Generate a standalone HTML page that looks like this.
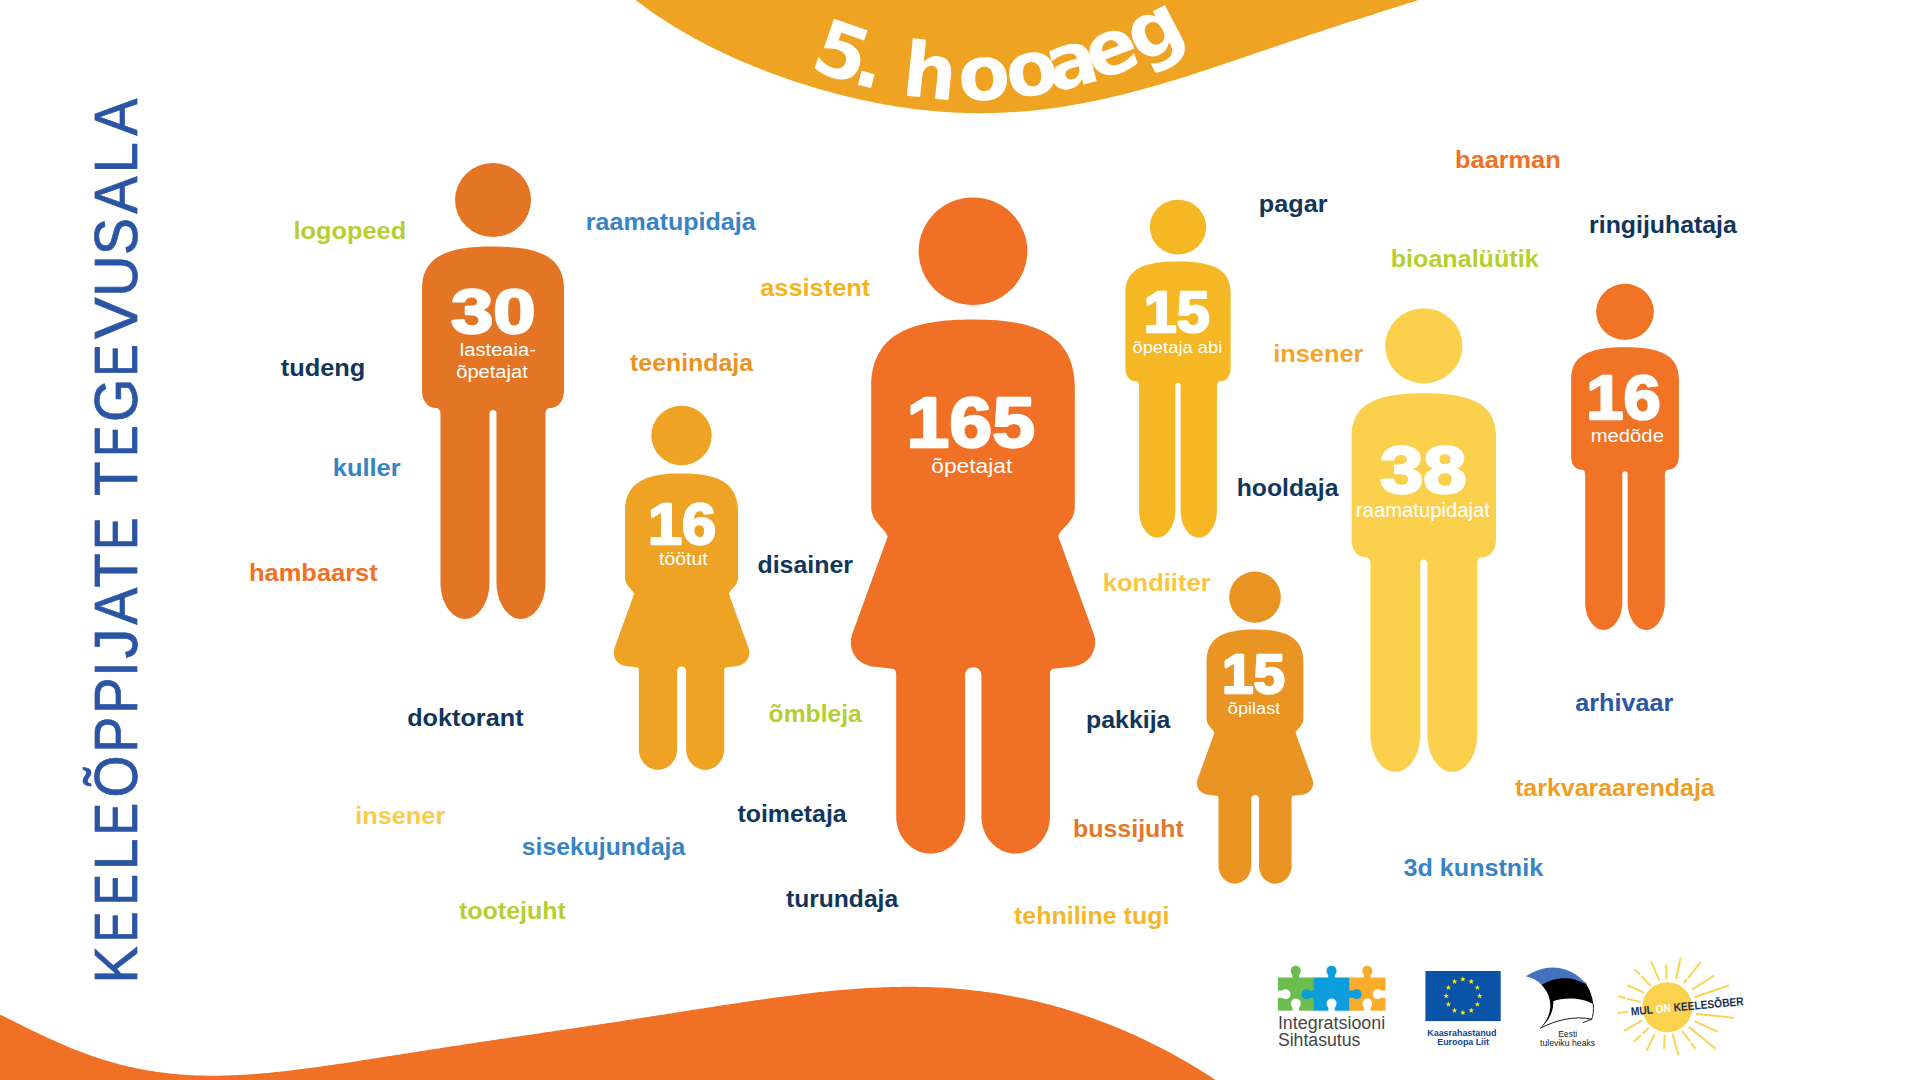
<!DOCTYPE html>
<html><head><meta charset="utf-8"><title>Keeleõppijate tegevusala</title>
<style>
html,body{margin:0;padding:0;background:#fff;width:1920px;height:1080px;overflow:hidden}
svg{display:block}
text{font-family:'Liberation Sans', Arial, sans-serif}
.w{font-size:24.5px;font-weight:700}
</style></head><body>
<svg width="1920" height="1080" viewBox="0 0 1920 1080">
<path d="M 626,-8 L 630,-4.45 634,-1.28 638,1.81 642,4.82 646,7.76 650,10.63 654,13.42 658,16.15 662,18.82 666,21.42 670,23.96 674,26.44 678,28.87 682,31.24 686,33.56 690,35.83 694,38.06 698,40.23 702,42.36 706,44.44 710,46.48 714,48.48 718,50.44 722,52.36 726,54.24 730,56.08 734,57.89 738,59.66 742,61.4 746,63.11 750,64.78 754,66.42 758,68.03 762,69.6 766,71.15 770,72.67 774,74.15 778,75.61 782,77.04 786,78.44 790,79.82 794,81.16 798,82.48 802,83.77 806,85.03 810,86.27 814,87.48 818,88.66 822,89.82 826,90.95 830,92.05 834,93.13 838,94.18 842,95.2 846,96.19 850,97.16 854,98.11 858,99.02 862,99.91 866,100.77 870,101.6 874,102.4 878,103.18 882,103.93 886,104.65 890,105.35 894,106.01 898,106.65 902,107.25 906,107.83 910,108.38 914,108.9 918,109.39 922,109.85 926,110.29 930,110.69 934,111.06 938,111.4 942,111.71 946,111.99 950,112.25 954,112.47 958,112.65 962,112.81 966,112.94 970,113.04 974,113.1 978,113.14 982,113.14 986,113.12 990,113.06 994,112.97 998,112.85 1002,112.7 1006,112.51 1010,112.3 1014,112.06 1018,111.78 1022,111.48 1026,111.14 1030,110.78 1034,110.38 1038,109.96 1042,109.5 1046,109.02 1050,108.51 1054,107.96 1058,107.39 1062,106.79 1066,106.17 1070,105.51 1074,104.83 1078,104.12 1082,103.38 1086,102.62 1090,101.83 1094,101.02 1098,100.18 1102,99.31 1106,98.43 1110,97.51 1114,96.58 1118,95.62 1122,94.64 1126,93.64 1130,92.62 1134,91.58 1138,90.52 1142,89.43 1146,88.33 1150,87.21 1154,86.08 1158,84.92 1162,83.76 1166,82.57 1170,81.37 1174,80.15 1178,78.93 1182,77.68 1186,76.43 1190,75.17 1194,73.89 1198,72.6 1202,71.3 1206,70 1210,68.68 1214,67.36 1218,66.03 1222,64.7 1226,63.35 1230,62.01 1234,60.66 1238,59.3 1242,57.94 1246,56.58 1250,55.22 1254,53.85 1258,52.49 1262,51.12 1266,49.75 1270,48.39 1274,47.02 1278,45.66 1282,44.3 1286,42.94 1290,41.59 1294,40.23 1298,38.88 1302,37.54 1306,36.2 1310,34.86 1314,33.53 1318,32.2 1322,30.88 1326,29.56 1330,28.25 1334,26.95 1338,25.64 1342,24.35 1346,23.05 1350,21.77 1354,20.49 1358,19.21 1362,17.93 1366,16.66 1370,15.39 1374,14.13 1378,12.86 1382,11.6 1386,10.34 1390,9.08 1394,7.82 1398,6.55 1402,5.28 1406,4.01 1410,2.74 1414,1.45 1418,0.16 1422,-1.14 L 1430,-8 Z" fill="#efa323"/>
<path d="M -4,1012.69 0,1014.63 4,1016.58 8,1018.55 12,1020.53 16,1022.51 20,1024.49 24,1026.46 28,1028.43 32,1030.38 36,1032.31 40,1034.22 44,1036.11 48,1037.96 52,1039.79 56,1041.59 60,1043.35 64,1045.07 68,1046.75 72,1048.39 76,1049.99 80,1051.55 84,1053.05 88,1054.52 92,1055.93 96,1057.3 100,1058.61 104,1059.88 108,1061.09 112,1062.26 116,1063.37 120,1064.44 124,1065.45 128,1066.41 132,1067.32 136,1068.18 140,1068.99 144,1069.75 148,1070.46 152,1071.12 156,1071.74 160,1072.3 164,1072.82 168,1073.3 172,1073.72 176,1074.11 180,1074.45 184,1074.74 188,1075 192,1075.21 196,1075.39 200,1075.52 204,1075.62 208,1075.68 212,1075.71 216,1075.7 220,1075.66 224,1075.58 228,1075.47 232,1075.33 236,1075.17 240,1074.97 244,1074.75 248,1074.5 252,1074.23 256,1073.93 260,1073.61 264,1073.26 268,1072.9 272,1072.51 276,1072.11 280,1071.69 284,1071.25 288,1070.79 292,1070.32 296,1069.84 300,1069.34 304,1068.83 308,1068.3 312,1067.77 316,1067.22 320,1066.67 324,1066.1 328,1065.53 332,1064.95 336,1064.36 340,1063.77 344,1063.17 348,1062.57 352,1061.96 356,1061.34 360,1060.73 364,1060.11 368,1059.49 372,1058.86 376,1058.23 380,1057.61 384,1056.98 388,1056.35 392,1055.72 396,1055.09 400,1054.46 404,1053.83 408,1053.2 412,1052.57 416,1051.94 420,1051.32 424,1050.69 428,1050.07 432,1049.44 436,1048.82 440,1048.2 444,1047.59 448,1046.97 452,1046.36 456,1045.74 460,1045.13 464,1044.53 468,1043.92 472,1043.31 476,1042.71 480,1042.11 484,1041.51 488,1040.91 492,1040.31 496,1039.72 500,1039.12 504,1038.53 508,1037.93 512,1037.34 516,1036.75 520,1036.16 524,1035.57 528,1034.98 532,1034.39 536,1033.8 540,1033.21 544,1032.62 548,1032.04 552,1031.45 556,1030.86 560,1030.26 564,1029.67 568,1029.08 572,1028.49 576,1027.89 580,1027.3 584,1026.7 588,1026.1 592,1025.5 596,1024.9 600,1024.3 604,1023.7 608,1023.09 612,1022.49 616,1021.88 620,1021.27 624,1020.66 628,1020.05 632,1019.43 636,1018.81 640,1018.2 644,1017.58 648,1016.96 652,1016.34 656,1015.71 660,1015.09 664,1014.47 668,1013.84 672,1013.22 676,1012.59 680,1011.96 684,1011.34 688,1010.71 692,1010.08 696,1009.46 700,1008.83 704,1008.21 708,1007.58 712,1006.96 716,1006.34 720,1005.72 724,1005.11 728,1004.5 732,1003.89 736,1003.28 740,1002.68 744,1002.08 748,1001.49 752,1000.9 756,1000.32 760,999.74 764,999.17 768,998.6 772,998.05 776,997.5 780,996.95 784,996.42 788,995.9 792,995.38 796,994.88 800,994.38 804,993.9 808,993.42 812,992.96 816,992.51 820,992.08 824,991.66 828,991.25 832,990.86 836,990.48 840,990.12 844,989.77 848,989.44 852,989.13 856,988.83 860,988.55 864,988.29 868,988.06 872,987.84 876,987.64 880,987.46 884,987.3 888,987.17 892,987.05 896,986.96 900,986.9 904,986.85 908,986.84 912,986.84 916,986.87 920,986.93 924,987.01 928,987.12 932,987.26 936,987.42 940,987.61 944,987.83 948,988.08 952,988.35 956,988.66 960,988.99 964,989.35 968,989.75 972,990.17 976,990.63 980,991.11 984,991.63 988,992.18 992,992.76 996,993.37 1000,994.01 1004,994.69 1008,995.4 1012,996.14 1016,996.91 1020,997.72 1024,998.56 1028,999.43 1032,1000.33 1036,1001.27 1040,1002.25 1044,1003.25 1048,1004.29 1052,1005.36 1056,1006.47 1060,1007.61 1064,1008.79 1068,1010 1072,1011.24 1076,1012.52 1080,1013.83 1084,1015.17 1088,1016.55 1092,1017.97 1096,1019.42 1100,1020.9 1104,1022.42 1108,1023.97 1112,1025.56 1116,1027.18 1120,1028.84 1124,1030.54 1128,1032.27 1132,1034.03 1136,1035.83 1140,1037.67 1144,1039.55 1148,1041.46 1152,1043.41 1156,1045.4 1160,1047.43 1164,1049.5 1168,1051.61 1172,1053.76 1176,1055.95 1180,1058.18 1184,1060.46 1188,1062.78 1192,1065.14 1196,1067.55 1200,1070.01 1204,1072.52 1208,1075.08 1212,1077.69 1216,1080.35 1220,1083.07 1224,1085.85 L 1240,1090 L -5,1090 Z" fill="#f07125"/>
<ellipse cx="493" cy="200" rx="38" ry="37" fill="#e37524"/><path d="M 493,246.5 C 535,246.5 564,254.5 564,288.5 L 564,390.5 C 564,402.5 557,408 550,408 C 547,408 545.5,410.5 545.5,414.5 L 545.5,582.5 C 545.5,602.5 534.5,619 521,619 C 507.5,619 496.5,602.5 496.5,582.5 L 496.5,413.5 C 496.5,411.5 495,410 493,410 C 491,410 489.5,411.5 489.5,413.5 L 489.5,582.5 C 489.5,602.5 478.5,619 465,619 C 451.5,619 440.5,602.5 440.5,582.5 L 440.5,414.5 C 440.5,410.5 439,408 436,408 C 429,408 422,402.5 422,390.5 L 422,288.5 C 422,254.5 451,246.5 493,246.5 Z" fill="#e37524"/>
<ellipse cx="681.5" cy="435.53" rx="30.19" ry="29.83" fill="#efa325"/><path d="M 681.5,473.41 C 714.8,473.41 738,480.62 738,511.15 L 738,577.47 C 738,586.08 730.34,588.85 728.84,593.85 L 748.82,648.85 C 750.65,655.45 747.54,664.88 735.89,666.16 L 726.18,667.22 C 724.51,667.38 724.24,668.77 724.24,670.99 L 724.24,749.25 C 724.24,760.57 715.69,769.84 705.2,769.84 C 694.71,769.84 686.16,760.57 686.16,749.25 L 686.16,670.99 C 686.16,668.22 684.27,666.44 681.61,666.44 C 678.95,666.44 677.06,668.22 677.06,670.99 L 677.06,749.25 C 677.06,760.57 668.51,769.84 657.97,769.84 C 647.42,769.84 638.88,760.57 638.88,749.25 L 638.88,670.99 C 638.88,668.77 638.49,667.38 636.82,667.22 L 627.11,666.16 C 615.46,664.88 612.35,655.45 614.18,648.85 L 634.16,593.85 C 632.66,588.85 625,586.08 625,577.47 L 625,511.15 C 625,480.62 648.2,473.41 681.5,473.41 Z" fill="#efa325"/>
<ellipse cx="973" cy="251.25" rx="54.4" ry="53.75" fill="#f07125"/><path d="M 973,319.5 C 1033,319.5 1074.8,332.5 1074.8,387.5 L 1074.8,507 C 1074.8,522.5 1061,527.5 1058.3,536.5 L 1094.3,635.6 C 1097.6,647.5 1092,664.5 1071,666.8 L 1053.5,668.7 C 1050.5,669 1050,671.5 1050,675.5 L 1050,816.5 C 1050,836.9 1034.6,853.6 1015.7,853.6 C 996.8,853.6 981.4,836.9 981.4,816.5 L 981.4,675.5 C 981.4,670.5 978,667.3 973.2,667.3 C 968.4,667.3 965,670.5 965,675.5 L 965,816.5 C 965,836.9 949.6,853.6 930.6,853.6 C 911.6,853.6 896.2,836.9 896.2,816.5 L 896.2,675.5 C 896.2,671.5 895.5,669 892.5,668.7 L 875,666.8 C 854,664.5 848.4,647.5 851.7,635.6 L 887.7,536.5 C 885,527.5 871.2,522.5 871.2,507 L 871.2,387.5 C 871.2,332.5 913,319.5 973,319.5 Z" fill="#f07125"/>
<ellipse cx="1178" cy="227.09" rx="28.16" ry="27.42" fill="#f5b724"/><path d="M 1178,261.54 C 1209.12,261.54 1230.61,267.47 1230.61,292.67 L 1230.61,368.25 C 1230.61,377.14 1225.42,381.22 1220.24,381.22 C 1218.01,381.22 1216.9,383.07 1216.9,386.03 L 1216.9,510.52 C 1216.9,525.34 1208.75,537.57 1198.75,537.57 C 1188.74,537.57 1180.59,525.34 1180.59,510.52 L 1180.59,385.29 C 1180.59,383.81 1179.48,382.7 1178,382.7 C 1176.52,382.7 1175.41,383.81 1175.41,385.29 L 1175.41,510.52 C 1175.41,525.34 1167.26,537.57 1157.25,537.57 C 1147.25,537.57 1139.1,525.34 1139.1,510.52 L 1139.1,386.03 C 1139.1,383.07 1137.99,381.22 1135.76,381.22 C 1130.58,381.22 1125.39,377.14 1125.39,368.25 L 1125.39,292.67 C 1125.39,267.47 1146.88,261.54 1178,261.54 Z" fill="#f5b724"/>
<ellipse cx="1255" cy="597.16" rx="25.87" ry="25.56" fill="#ea9424"/><path d="M 1255,629.62 C 1283.54,629.62 1303.42,635.81 1303.42,661.96 L 1303.42,718.8 C 1303.42,726.17 1296.85,728.55 1295.57,732.83 L 1312.69,779.96 C 1314.26,785.62 1311.6,793.71 1301.61,794.8 L 1293.29,795.7 C 1291.86,795.85 1291.62,797.03 1291.62,798.94 L 1291.62,866 C 1291.62,875.7 1284.3,883.64 1275.31,883.64 C 1266.32,883.64 1259,875.7 1259,866 L 1259,798.94 C 1259,796.56 1257.38,795.04 1255.1,795.04 C 1252.81,795.04 1251.2,796.56 1251.2,798.94 L 1251.2,866 C 1251.2,875.7 1243.87,883.64 1234.83,883.64 C 1225.8,883.64 1218.47,875.7 1218.47,866 L 1218.47,798.94 C 1218.47,797.03 1218.14,795.85 1216.71,795.7 L 1208.39,794.8 C 1198.4,793.71 1195.74,785.62 1197.31,779.96 L 1214.43,732.83 C 1213.15,728.55 1206.58,726.17 1206.58,718.8 L 1206.58,661.96 C 1206.58,635.81 1226.46,629.62 1255,629.62 Z" fill="#ea9424"/>
<ellipse cx="1423.8" cy="345.84" rx="38.65" ry="37.63" fill="#fbd04d"/><path d="M 1423.8,393.13 C 1466.51,393.13 1496.01,401.26 1496.01,435.84 L 1496.01,539.58 C 1496.01,551.78 1488.89,557.37 1481.77,557.37 C 1478.72,557.37 1477.19,559.92 1477.19,563.98 L 1477.19,734.84 C 1477.19,755.18 1466.01,771.96 1452.28,771.96 C 1438.55,771.96 1427.36,755.18 1427.36,734.84 L 1427.36,562.97 C 1427.36,560.93 1425.83,559.41 1423.8,559.41 C 1421.77,559.41 1420.24,560.93 1420.24,562.97 L 1420.24,734.84 C 1420.24,755.18 1409.05,771.96 1395.32,771.96 C 1381.59,771.96 1370.41,755.18 1370.41,734.84 L 1370.41,563.98 C 1370.41,559.92 1368.88,557.37 1365.83,557.37 C 1358.71,557.37 1351.59,551.78 1351.59,539.58 L 1351.59,435.84 C 1351.59,401.26 1381.09,393.13 1423.8,393.13 Z" fill="#fbd04d"/>
<ellipse cx="1625" cy="311.86" rx="28.84" ry="28.08" fill="#f07326"/><path d="M 1625,347.16 C 1656.88,347.16 1678.89,353.23 1678.89,379.03 L 1678.89,456.45 C 1678.89,465.56 1673.58,469.73 1668.26,469.73 C 1665.99,469.73 1664.85,471.63 1664.85,474.67 L 1664.85,602.18 C 1664.85,617.36 1656.5,629.88 1646.25,629.88 C 1636.01,629.88 1627.66,617.36 1627.66,602.18 L 1627.66,473.91 C 1627.66,472.39 1626.52,471.25 1625,471.25 C 1623.48,471.25 1622.34,472.39 1622.34,473.91 L 1622.34,602.18 C 1622.34,617.36 1613.99,629.88 1603.75,629.88 C 1593.5,629.88 1585.15,617.36 1585.15,602.18 L 1585.15,474.67 C 1585.15,471.63 1584.01,469.73 1581.74,469.73 C 1576.42,469.73 1571.11,465.56 1571.11,456.45 L 1571.11,379.03 C 1571.11,353.23 1593.12,347.16 1625,347.16 Z" fill="#f07326"/>
<text x="293.53" y="238.9" textLength="112.59" lengthAdjust="spacingAndGlyphs" fill="#b6cf30" class="w">logopeed</text>
<text x="585.86" y="230.2" textLength="169.75" lengthAdjust="spacingAndGlyphs" fill="#3684c4" class="w">raamatupidaja</text>
<text x="760.16" y="296.2" textLength="110.06" lengthAdjust="spacingAndGlyphs" fill="#f5b320" class="w">assistent</text>
<text x="630.1" y="370.6" textLength="122.98" lengthAdjust="spacingAndGlyphs" fill="#ea9321" class="w">teenindaja</text>
<text x="280.7" y="375.6" textLength="84.72" lengthAdjust="spacingAndGlyphs" fill="#12355b" class="w">tudeng</text>
<text x="332.72" y="475.9" textLength="67.97" lengthAdjust="spacingAndGlyphs" fill="#3684c4" class="w">kuller</text>
<text x="249.02" y="580.7" textLength="128.7" lengthAdjust="spacingAndGlyphs" fill="#f07125" class="w">hambaarst</text>
<text x="757.48" y="573" textLength="95.48" lengthAdjust="spacingAndGlyphs" fill="#12355b" class="w">disainer</text>
<text x="768.59" y="722.4" textLength="93.2" lengthAdjust="spacingAndGlyphs" fill="#b6cf30" class="w">õmbleja</text>
<text x="407.17" y="726" textLength="116.4" lengthAdjust="spacingAndGlyphs" fill="#12355b" class="w">doktorant</text>
<text x="355.23" y="823.8" textLength="90.03" lengthAdjust="spacingAndGlyphs" fill="#f9cc47" class="w">insener</text>
<text x="521.89" y="854.9" textLength="163.35" lengthAdjust="spacingAndGlyphs" fill="#3684c4" class="w">sisekujundaja</text>
<text x="458.9" y="918.9" textLength="107.08" lengthAdjust="spacingAndGlyphs" fill="#b6cf30" class="w">tootejuht</text>
<text x="737.4" y="821.7" textLength="109.26" lengthAdjust="spacingAndGlyphs" fill="#12355b" class="w">toimetaja</text>
<text x="786" y="906.7" textLength="112.12" lengthAdjust="spacingAndGlyphs" fill="#12355b" class="w">turundaja</text>
<text x="1102.82" y="591" textLength="107.77" lengthAdjust="spacingAndGlyphs" fill="#f8c645" class="w">kondiiter</text>
<text x="1085.97" y="728.2" textLength="84.51" lengthAdjust="spacingAndGlyphs" fill="#12355b" class="w">pakkija</text>
<text x="1072.96" y="837" textLength="110.93" lengthAdjust="spacingAndGlyphs" fill="#e2782a" class="w">bussijuht</text>
<text x="1014" y="924.3" textLength="155.37" lengthAdjust="spacingAndGlyphs" fill="#f5b62b" class="w">tehniline tugi</text>
<text x="1455.13" y="168" textLength="105.55" lengthAdjust="spacingAndGlyphs" fill="#f07125" class="w">baarman</text>
<text x="1258.74" y="212" textLength="68.77" lengthAdjust="spacingAndGlyphs" fill="#12355b" class="w">pagar</text>
<text x="1390.75" y="267" textLength="147.85" lengthAdjust="spacingAndGlyphs" fill="#b6cf30" class="w">bioanalüütik</text>
<text x="1589.07" y="232.9" textLength="147.8" lengthAdjust="spacingAndGlyphs" fill="#12355b" class="w">ringijuhataja</text>
<text x="1273.23" y="361.7" textLength="90.23" lengthAdjust="spacingAndGlyphs" fill="#f5a52a" class="w">insener</text>
<text x="1236.68" y="495.8" textLength="101.75" lengthAdjust="spacingAndGlyphs" fill="#12355b" class="w">hooldaja</text>
<text x="1575.17" y="710.7" textLength="98.1" lengthAdjust="spacingAndGlyphs" fill="#2a56a5" class="w">arhivaar</text>
<text x="1515" y="796" textLength="199.72" lengthAdjust="spacingAndGlyphs" fill="#ee9e22" class="w">tarkvaraarendaja</text>
<text x="1403.57" y="875.8" textLength="139.57" lengthAdjust="spacingAndGlyphs" fill="#3684c4" class="w">3d kunstnik</text>
<text x="450.9" y="333" textLength="84.59" lengthAdjust="spacingAndGlyphs" fill="#fff" stroke="#fff" stroke-width="2.4" stroke-linejoin="round" font-size="63.31" font-weight="700">30</text>
<text x="647.96" y="543.5" textLength="68.18" lengthAdjust="spacingAndGlyphs" fill="#fff" stroke="#fff" stroke-width="2.4" stroke-linejoin="round" font-size="57.81" font-weight="700">16</text>
<text x="906.54" y="446.6" textLength="128.44" lengthAdjust="spacingAndGlyphs" fill="#fff" stroke="#fff" stroke-width="2.4" stroke-linejoin="round" font-size="70.61" font-weight="700">165</text>
<text x="1143.87" y="331.5" textLength="65.79" lengthAdjust="spacingAndGlyphs" fill="#fff" stroke="#fff" stroke-width="2.4" stroke-linejoin="round" font-size="56.61" font-weight="700">15</text>
<text x="1222.01" y="692.6" textLength="62.9" lengthAdjust="spacingAndGlyphs" fill="#fff" stroke="#fff" stroke-width="2.4" stroke-linejoin="round" font-size="54.91" font-weight="700">15</text>
<text x="1380.03" y="492.8" textLength="86.66" lengthAdjust="spacingAndGlyphs" fill="#fff" stroke="#fff" stroke-width="2.4" stroke-linejoin="round" font-size="65.81" font-weight="700">38</text>
<text x="1586.3" y="418.6" textLength="74.36" lengthAdjust="spacingAndGlyphs" fill="#fff" stroke="#fff" stroke-width="2.4" stroke-linejoin="round" font-size="63.61" font-weight="700">16</text>
<text x="459.83" y="355.8" textLength="76.04" lengthAdjust="spacingAndGlyphs" fill="#fff" font-size="18.8">lasteaia-</text>
<text x="456.23" y="377.5" textLength="71.6" lengthAdjust="spacingAndGlyphs" fill="#fff" font-size="18.8">õpetajat</text>
<text x="659" y="564.9" textLength="48.75" lengthAdjust="spacingAndGlyphs" fill="#fff" font-size="18">töötut</text>
<text x="931.23" y="473" textLength="81.14" lengthAdjust="spacingAndGlyphs" fill="#fff" font-size="19.5">õpetajat</text>
<text x="1132.42" y="352.8" textLength="89.97" lengthAdjust="spacingAndGlyphs" fill="#fff" font-size="17">õpetaja abi</text>
<text x="1227.86" y="714.1" textLength="52.44" lengthAdjust="spacingAndGlyphs" fill="#fff" font-size="17.4">õpilast</text>
<text x="1355.86" y="517" textLength="134.04" lengthAdjust="spacingAndGlyphs" fill="#fff" font-size="19.5">raamatupidajat</text>
<text x="1590.73" y="442.1" textLength="73.18" lengthAdjust="spacingAndGlyphs" fill="#fff" font-size="19">medõde</text>
<text transform="translate(137.3,978) rotate(-90)" y="-0.3" fill="#2b55a4" stroke="#2b55a4" stroke-width="0.7" style="font-size:62px;font-weight:400"><tspan x="-5.43" textLength="37.2" lengthAdjust="spacingAndGlyphs">K</tspan><tspan x="35.82" textLength="30.7" lengthAdjust="spacingAndGlyphs">E</tspan><tspan x="72.81" textLength="31.26" lengthAdjust="spacingAndGlyphs">E</tspan><tspan x="107.38" textLength="31.98" lengthAdjust="spacingAndGlyphs">L</tspan><tspan x="142.45" textLength="32.49" lengthAdjust="spacingAndGlyphs">E</tspan><tspan x="180.38" textLength="42.16" lengthAdjust="spacingAndGlyphs">Õ</tspan><tspan x="225.15" textLength="36.16" lengthAdjust="spacingAndGlyphs">P</tspan><tspan x="264.06" textLength="36.47" lengthAdjust="spacingAndGlyphs">P</tspan><tspan x="301.01" textLength="15.79" lengthAdjust="spacingAndGlyphs">I</tspan><tspan x="319.61" textLength="30.23" lengthAdjust="spacingAndGlyphs">J</tspan><tspan x="353.34" textLength="37.02" lengthAdjust="spacingAndGlyphs">A</tspan><tspan x="390.18" textLength="34.57" lengthAdjust="spacingAndGlyphs">T</tspan><tspan x="428.08" textLength="32.67" lengthAdjust="spacingAndGlyphs">E</tspan><tspan> </tspan><tspan x="482.08" textLength="34.57" lengthAdjust="spacingAndGlyphs">T</tspan><tspan x="521.22" textLength="31.13" lengthAdjust="spacingAndGlyphs">E</tspan><tspan x="555.95" textLength="43.37" lengthAdjust="spacingAndGlyphs">G</tspan><tspan x="601.25" textLength="32.49" lengthAdjust="spacingAndGlyphs">E</tspan><tspan x="638.98" textLength="41.65" lengthAdjust="spacingAndGlyphs">V</tspan><tspan x="680.89" textLength="41.71" lengthAdjust="spacingAndGlyphs">U</tspan><tspan x="722.93" textLength="36.96" lengthAdjust="spacingAndGlyphs">S</tspan><tspan x="764.24" textLength="37.32" lengthAdjust="spacingAndGlyphs">A</tspan><tspan x="804.67" textLength="31.03" lengthAdjust="spacingAndGlyphs">L</tspan><tspan x="842.24" textLength="37.22" lengthAdjust="spacingAndGlyphs">A</tspan></text>
<path id="arc" d="M 673.02,-23.02 A 420 420 0 0 0 1266.98,-23.02" fill="none"/>
<text fill="#fff" style="font-family:'DejaVu Sans','Liberation Sans',sans-serif;font-size:76px;font-weight:700;letter-spacing:-2.5px"><textPath href="#arc" startOffset="355" text-anchor="middle"><tspan dx="6">5</tspan><tspan dx="-6">.</tspan> <tspan dx="1">h</tspan><tspan dx="7">o</tspan><tspan dx="1">o</tspan><tspan dx="-6">a</tspan><tspan dx="-5">e</tspan>g</textPath></text>
<rect x="1277.9" y="977.5" width="36.07" height="33.2" fill="#6cbd4f"/>
<circle cx="1295.78" cy="970.9" r="5.1" fill="#6cbd4f"/><rect x="1292.48" y="972" width="6.6" height="6" fill="#6cbd4f"/>
<circle cx="1295.78" cy="1003.6" r="5.0" fill="#fff"/><rect x="1292.58" y="1005" width="6.4" height="6" fill="#fff"/>
<rect x="1313.67" y="977.5" width="36.07" height="33.2" fill="#0b9ddc"/>
<circle cx="1331.55" cy="970.9" r="5.1" fill="#0b9ddc"/><rect x="1328.25" y="972" width="6.6" height="6" fill="#0b9ddc"/>
<circle cx="1331.55" cy="1003.6" r="5.0" fill="#fff"/><rect x="1328.35" y="1005" width="6.4" height="6" fill="#fff"/>
<rect x="1349.43" y="977.5" width="36.07" height="33.2" fill="#f9ab2b"/>
<circle cx="1367.32" cy="970.9" r="5.1" fill="#f9ab2b"/><rect x="1364.02" y="972" width="6.6" height="6" fill="#f9ab2b"/>
<circle cx="1367.32" cy="1003.6" r="5.0" fill="#fff"/><rect x="1364.12" y="1005" width="6.4" height="6" fill="#fff"/>
<circle cx="1285.6" cy="994.2" r="4.9" fill="#fff"/><rect x="1277.5" y="990.6" width="6" height="7.2" fill="#fff"/>
<circle cx="1306.4" cy="994.2" r="4.9" fill="#0b9ddc"/><rect x="1308" y="990.6" width="6" height="7.2" fill="#0b9ddc"/>
<circle cx="1356.6" cy="994.2" r="4.9" fill="#0b9ddc"/><rect x="1349" y="990.6" width="6" height="7.2" fill="#0b9ddc"/>
<circle cx="1377.6" cy="994.2" r="4.9" fill="#fff"/><rect x="1379.5" y="990.6" width="6.2" height="7.2" fill="#fff"/>
<text x="1277.9" y="1029" fill="#454545" style="font-size:17.6px;font-weight:400" textLength="107.3" lengthAdjust="spacingAndGlyphs">Integratsiooni</text>
<text x="1277.9" y="1045.8" fill="#454545" style="font-size:17.6px;font-weight:400" textLength="82.5" lengthAdjust="spacingAndGlyphs">Sihtasutus</text>
<rect x="1425.4" y="971" width="75.3" height="50.1" fill="#0b53a6"/>
<polygon points="1462.9,976.4 1463.61,978.33 1465.66,978.4 1464.04,979.67 1464.6,981.65 1462.9,980.5 1461.2,981.65 1461.76,979.67 1460.14,978.4 1462.19,978.33" fill="#ffed00"/>
<polygon points="1471.25,978.64 1471.96,980.57 1474.01,980.64 1472.39,981.91 1472.95,983.88 1471.25,982.74 1469.55,983.88 1470.11,981.91 1468.49,980.64 1470.54,980.57" fill="#ffed00"/>
<polygon points="1477.36,984.75 1478.07,986.68 1480.12,986.75 1478.5,988.02 1479.07,990 1477.36,988.85 1475.66,990 1476.22,988.02 1474.6,986.75 1476.66,986.68" fill="#ffed00"/>
<polygon points="1479.6,993.1 1480.31,995.03 1482.36,995.1 1480.74,996.37 1481.3,998.35 1479.6,997.2 1477.9,998.35 1478.46,996.37 1476.84,995.1 1478.89,995.03" fill="#ffed00"/>
<polygon points="1477.36,1001.45 1478.07,1003.38 1480.12,1003.45 1478.5,1004.72 1479.07,1006.7 1477.36,1005.55 1475.66,1006.7 1476.22,1004.72 1474.6,1003.45 1476.66,1003.38" fill="#ffed00"/>
<polygon points="1471.25,1007.56 1471.96,1009.49 1474.01,1009.57 1472.39,1010.83 1472.95,1012.81 1471.25,1011.66 1469.55,1012.81 1470.11,1010.83 1468.49,1009.57 1470.54,1009.49" fill="#ffed00"/>
<polygon points="1462.9,1009.8 1463.61,1011.73 1465.66,1011.8 1464.04,1013.07 1464.6,1015.05 1462.9,1013.9 1461.2,1015.05 1461.76,1013.07 1460.14,1011.8 1462.19,1011.73" fill="#ffed00"/>
<polygon points="1454.55,1007.56 1455.26,1009.49 1457.31,1009.57 1455.69,1010.83 1456.25,1012.81 1454.55,1011.66 1452.85,1012.81 1453.41,1010.83 1451.79,1009.57 1453.84,1009.49" fill="#ffed00"/>
<polygon points="1448.44,1001.45 1449.14,1003.38 1451.2,1003.45 1449.58,1004.72 1450.14,1006.7 1448.44,1005.55 1446.73,1006.7 1447.3,1004.72 1445.68,1003.45 1447.73,1003.38" fill="#ffed00"/>
<polygon points="1446.2,993.1 1446.91,995.03 1448.96,995.1 1447.34,996.37 1447.9,998.35 1446.2,997.2 1444.5,998.35 1445.06,996.37 1443.44,995.1 1445.49,995.03" fill="#ffed00"/>
<polygon points="1448.44,984.75 1449.14,986.68 1451.2,986.75 1449.58,988.02 1450.14,990 1448.44,988.85 1446.73,990 1447.3,988.02 1445.68,986.75 1447.73,986.68" fill="#ffed00"/>
<polygon points="1454.55,978.64 1455.26,980.57 1457.31,980.64 1455.69,981.91 1456.25,983.88 1454.55,982.74 1452.85,983.88 1453.41,981.91 1451.79,980.64 1453.84,980.57" fill="#ffed00"/>
<text x="1427.3" y="1035.8" fill="#0a4693" style="font-size:9.6px;font-weight:700" textLength="69.2" lengthAdjust="spacingAndGlyphs">Kaasrahastanud</text>
<text x="1437.3" y="1045.4" fill="#0a4693" style="font-size:9.6px;font-weight:700" textLength="51.7" lengthAdjust="spacingAndGlyphs">Euroopa Liit</text>
<path d="M 1541.7,985 C 1548,992 1550.5,999 1550.3,1006 C 1550,1015 1546,1022 1540,1028.3 C 1547,1023 1553.8,1013 1553.3,1001.3 C 1562,998 1580,996.5 1593.3,1004.2 C 1592.5,997 1590,990 1586.7,985 L 1586,983 C 1578,978 1572,977.3 1565,977.3 C 1556,977.3 1548,980 1541,983.5 Z" fill="#000"/>
<path d="M 1525.8,976.3 C 1535,970.5 1544,967.5 1552.5,967.5 C 1566,967.5 1579,974 1586.7,985 C 1578,980 1572,978.3 1565,978.3 C 1556,978.3 1548,981 1541.7,985 C 1537,980.5 1532,977.5 1525.8,976.3 Z" fill="#4473be"/>
<path d="M 1540,1028.3 C 1556,1020 1575,1015.5 1591.7,1019.2 M 1591.7,1019.2 L 1583,1022.6 M 1593.3,1004.2 C 1593.8,1010 1593.2,1016 1591.7,1019.2" fill="none" stroke="#000" stroke-width="0.9"/>
<text x="1567.7" y="1036.8" text-anchor="middle" fill="#222" style="font-size:8.6px;font-weight:400">Eesti</text>
<text x="1540" y="1045.7" fill="#222" style="font-size:8.6px;font-weight:400" textLength="55.2" lengthAdjust="spacingAndGlyphs">tuleviku heaks</text>
<circle cx="1667.3" cy="1007.2" r="25" fill="#fbd24e"/>
<path d="M 1651.3,961.7 L 1659,980 M 1666.1,965.3 L 1666.6,978.5 M 1680.4,958.7 L 1676.3,978 M 1700.2,962.7 L 1688.5,977.5 M 1686.5,979.5 L 1684.4,982.6 M 1713.5,976 L 1692.6,989.2 M 1728.2,985.6 L 1695.1,997 M 1733.3,1017.7 L 1696.6,1014 M 1717,1031.5 L 1695.1,1021.3 M 1715,1048.3 L 1689.5,1027.4 M 1695.1,1048.3 L 1691.5,1043.7 M 1689.5,1040.6 L 1682.4,1031.5 M 1678.3,1054.4 L 1672.7,1034.5 M 1664.6,1035.5 L 1664.1,1048.3 M 1654.4,1034.5 L 1646.8,1050.3 M 1648.3,1028.4 L 1643,1033.3 M 1640.5,1035.5 L 1634.5,1041.1 M 1641.2,1020.8 L 1624.9,1030.4 M 1627.4,1011.6 L 1618.2,1013.1 M 1640.1,1001.9 L 1628,998.8 M 1625,998 L 1618.7,996.3 M 1643.2,992.3 L 1628.4,985.6 M 1650.8,985.6 L 1641.7,976.5 M 1639.6,973.9 L 1635,969.9" stroke="#fbd24e" stroke-width="1.9" stroke-linecap="round" fill="none"/>
<text transform="translate(1631.3,1015.4) rotate(-5.2)" x="0" y="0" fill="#1b2f55" style="font-size:11.6px;font-weight:700" textLength="113" lengthAdjust="spacingAndGlyphs">MUL <tspan fill="#fff">ON</tspan> KEELESÕBER</text>
</svg>
</body></html>
